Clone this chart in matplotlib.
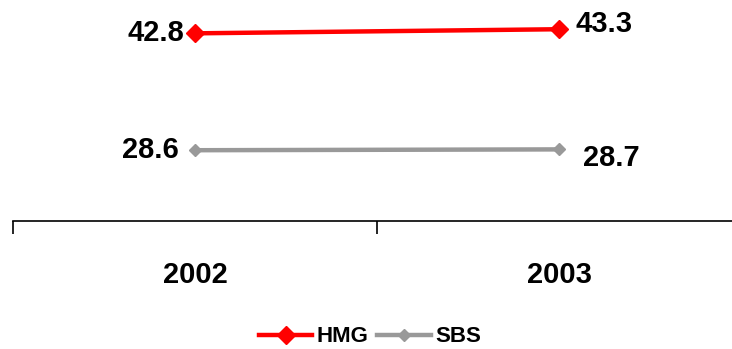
import matplotlib
matplotlib.use("Agg")
import matplotlib.pyplot as plt

plt.rcParams['font.family'] = ['Liberation Sans', 'DejaVu Sans']

years = ["2002", "2003"]
hmg = [42.8, 43.3]
sbs = [28.6, 28.7]

fig = plt.figure(figsize=(7.32, 3.49), dpi=100)
# axes runs off the right edge like the original
ax = fig.add_axes([13/732, 1 - 221/349, 728/732, 214/349])

x = [0.5, 1.5]
ax.plot(x, hmg, color="#ff0000", lw=3.2, marker="D", ms=9, label="HMG")
ax.plot(x, sbs, color="#999999", lw=3.2, marker="D", ms=6, label="SBS")

ax.set_xlim(0, 2)
ax.set_ylim(20, 46)

lab = dict(fontsize=21, fontweight="bold")
ax.annotate(f"{hmg[0]}", (x[0], hmg[0]), xytext=(-8, 0), textcoords="offset points",
            ha="right", va="center", **lab)
ax.annotate(f"{hmg[1]}", (x[1], hmg[1]), xytext=(12, 4), textcoords="offset points",
            ha="left", va="center", **lab)
ax.annotate(f"{sbs[0]}", (x[0], sbs[0]), xytext=(-12, 0), textcoords="offset points",
            ha="right", va="center", **lab)
ax.annotate(f"{sbs[1]}", (x[1], sbs[1]), xytext=(17, -6), textcoords="offset points",
            ha="left", va="center", **lab)

for s in ["top", "right", "left"]:
    ax.spines[s].set_visible(False)
ax.spines["bottom"].set_linewidth(1.2)
ax.set_yticks([])
ax.set_xticks([0, 1, 2])
ax.set_xticklabels([])
ax.tick_params(axis="x", direction="out", length=9, width=1.2)
ax.set_xticks(x, minor=True)
ax.set_xticklabels(years, minor=True, fontsize=21, fontweight="bold")
ax.tick_params(axis="x", which="minor", length=0, pad=29)

fig.legend(loc="center", bbox_to_anchor=(370/732, 1 - 337/349), ncol=2, frameon=False,
           prop={"size": 16, "weight": "bold"}, handlelength=2.4, handletextpad=0.2,
           columnspacing=0.4)

fig.savefig("out.png", dpi=100)
